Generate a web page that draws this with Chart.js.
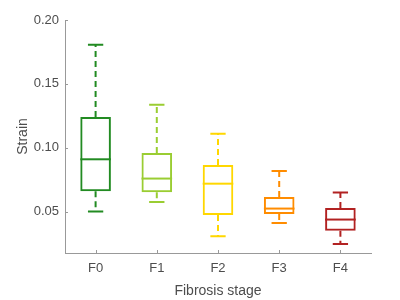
<!DOCTYPE html>
<html>
<head>
<meta charset="utf-8">
<script src="https://cdn.jsdelivr.net/npm/chart.js@4"></script>
<style>
  html, body { margin: 0; padding: 0; background: #fff; }
  #wrap { width: 400px; height: 300px; }
</style>
</head>
<body>
<div id="wrap"><canvas id="chart"></canvas></div>
<script>
const stages = ["F0", "F1", "F2", "F3", "F4"]
const whiskerLow = [0.050, 0.0574, 0.0306, 0.041, 0.0245]
const q1 = [0.0658, 0.065, 0.0473, 0.048, 0.035]
const median = [0.0909, 0.0758, 0.0718, 0.0523, 0.0437]
const q3 = [0.124, 0.0958, 0.0864, 0.0614, 0.0527]
const whiskerHigh = [0.1807, 0.1337, 0.111, 0.0817, 0.0648]
const yTicks = [0.05, 0.10, 0.15, 0.20]
const colors = ["#228b22", "#9acd32", "#ffd700", "#ff8c00", "#b22222"]

const font = "'Liberation Sans', Arial, sans-serif"
const textColor = "#4d4d4d"
const axisColor = "#999999"

// medians, whiskers and caps, placed through the chart's own scales
const boxExtras = {
    id: "boxExtras",
    afterDatasetsDraw(chart) {
        const ctx = chart.ctx
        const x = chart.scales.x
        const y = chart.scales.y
        const meta = chart.getDatasetMeta(0)
        ctx.save()
        stages.forEach((s, i) => {
            const cx = x.getPixelForValue(i)
            const half = meta.data[i].width / 2
            const cap = half / 2
            ctx.strokeStyle = colors[i]
            ctx.lineWidth = 2
            // median
            ctx.setLineDash([])
            ctx.beginPath()
            ctx.moveTo(cx - half, y.getPixelForValue(median[i]))
            ctx.lineTo(cx + half, y.getPixelForValue(median[i]))
            ctx.stroke()
            // caps
            ctx.beginPath()
            ctx.moveTo(cx - cap, y.getPixelForValue(whiskerHigh[i]))
            ctx.lineTo(cx + cap, y.getPixelForValue(whiskerHigh[i]))
            ctx.moveTo(cx - cap, y.getPixelForValue(whiskerLow[i]))
            ctx.lineTo(cx + cap, y.getPixelForValue(whiskerLow[i]))
            ctx.stroke()
            // dashed whiskers
            ctx.setLineDash([6, 4])
            ctx.beginPath()
            ctx.moveTo(cx, y.getPixelForValue(q3[i]))
            ctx.lineTo(cx, y.getPixelForValue(whiskerHigh[i]))
            ctx.moveTo(cx, y.getPixelForValue(q1[i]))
            ctx.lineTo(cx, y.getPixelForValue(whiskerLow[i]))
            ctx.stroke()
        })
        // inward tick marks
        ctx.setLineDash([])
        ctx.strokeStyle = axisColor
        ctx.lineWidth = 1
        ctx.beginPath()
        y.ticks.forEach(t => {
            const py = Math.round(y.getPixelForValue(t.value)) + 0.5
            ctx.moveTo(chart.chartArea.left, py)
            ctx.lineTo(chart.chartArea.left + 3, py)
        })
        stages.forEach((s, i) => {
            const px = Math.round(x.getPixelForValue(i)) + 0.5
            ctx.moveTo(px, chart.chartArea.bottom)
            ctx.lineTo(px, chart.chartArea.bottom - 3)
        })
        ctx.stroke()
        ctx.restore()
    }
}

new Chart(document.getElementById("chart"), {
    type: "bar",
    data: {
        labels: stages,
        datasets: [{
            data: stages.map((s, i) => [q1[i], q3[i]]),
            backgroundColor: "rgba(255,255,255,0)",
            borderColor: colors,
            borderWidth: 2,
            borderSkipped: false,
            barPercentage: 0.5,
            categoryPercentage: 1
        }]
    },
    options: {
        responsive: true,
        maintainAspectRatio: false,
        animation: false,
        layout: { padding: { top: 20, right: 29, left: 0, bottom: 0 } },
        plugins: { legend: { display: false }, tooltip: { enabled: false } },
        scales: {
            x: {
                grid: { display: false, drawTicks: false },
                border: { display: true, color: axisColor, width: 1 },
                ticks: { color: textColor, font: { family: font, size: 13 }, padding: 8 },
                title: { display: true, text: "Fibrosis stage", color: textColor, font: { family: font, size: 14 }, padding: { top: 3, bottom: 0 } },
                afterFit: s => { s.height = 47 }
            },
            y: {
                min: 0.0175,
                max: 0.20,
                grid: { display: false, drawTicks: false },
                border: { display: true, color: axisColor, width: 1 },
                afterBuildTicks: s => { s.ticks = yTicks.map(v => ({ value: v })) },
                ticks: { color: textColor, font: { family: font, size: 13 }, padding: 6, callback: v => v.toFixed(2) },
                title: { display: true, text: "Strain", color: textColor, font: { family: font, size: 14 }, padding: { top: 15, bottom: 0 } },
                afterFit: s => { s.width = 65 }
            }
        }
    },
    plugins: [boxExtras]
})
</script>
</body>
</html>
